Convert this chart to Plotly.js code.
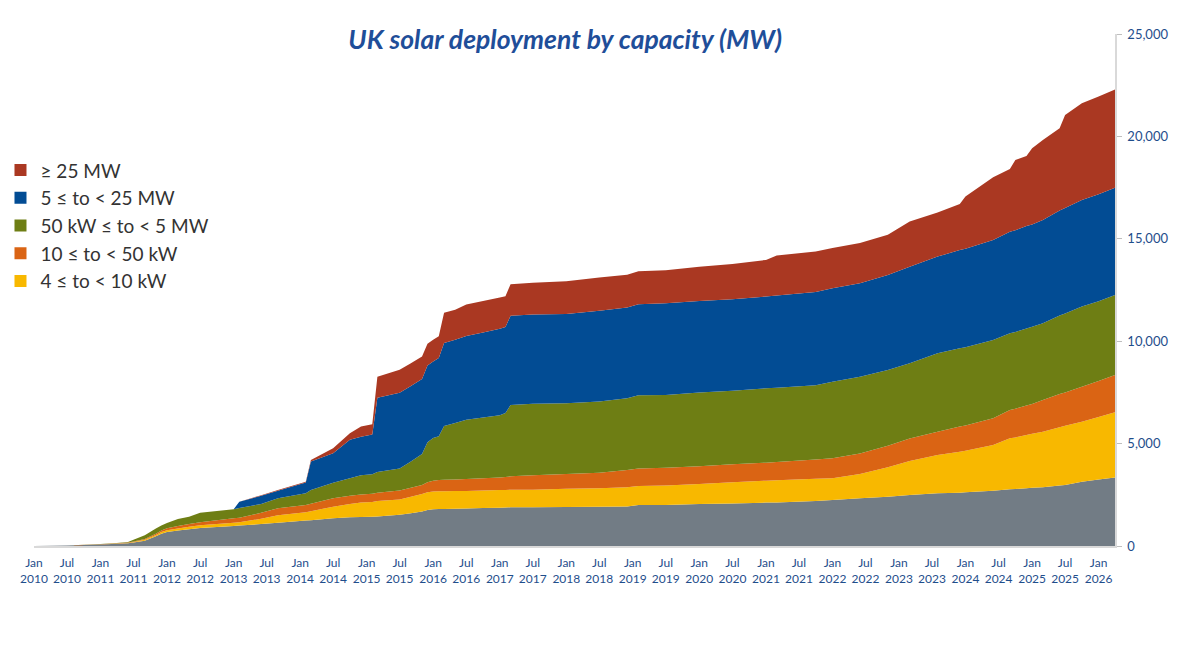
<!DOCTYPE html>
<html>
<head>
<meta charset="utf-8">
<script src="https://cdn.plot.ly/plotly-3.0.1.min.js"></script>
<style>
  html, body { margin: 0; padding: 0; background: #ffffff; }
  #plot { width: 1200px; height: 645px; }
</style>
</head>
<body>
<div id="plot"></div>
<script>
// UK solar deployment by capacity band, cumulative MW (stacked)

const months = [
    '2010-01-01', '2010-07-01', '2011-01-01', '2011-04-01', '2011-06-01', '2011-07-01', '2011-09-01', '2011-11-01',
    '2011-12-01', '2012-01-01', '2012-03-01', '2012-05-01', '2012-07-01', '2013-01-01', '2013-02-01', '2013-06-01',
    '2013-09-01', '2014-02-01', '2014-03-01', '2014-07-01', '2014-10-01', '2014-12-01', '2015-02-01', '2015-03-01',
    '2015-07-01', '2015-09-01', '2015-11-01', '2015-12-01', '2016-01-01', '2016-02-01', '2016-03-01', '2016-05-01',
    '2016-07-01', '2016-10-01', '2017-01-01', '2017-02-01', '2017-03-01', '2017-07-01', '2018-01-01', '2018-07-01',
    '2018-12-01', '2019-02-01', '2019-07-01', '2020-01-01', '2020-07-01', '2021-01-01', '2021-03-01', '2021-10-01',
    '2022-01-01', '2022-06-01', '2022-11-01', '2023-03-01', '2023-08-01', '2023-12-01', '2024-01-01', '2024-06-01',
    '2024-09-01', '2024-10-01', '2024-12-01', '2025-01-01', '2025-03-01', '2025-06-01', '2025-07-01', '2025-10-01',
    '2026-01-01', '2026-04-01'
];

// MW in each band (not cumulative)
const under4kW = [
    5, 20, 70, 105, 130, 165, 260, 480, 600, 680, 760, 820, 880, 980, 1000, 1070,
    1130, 1240, 1260, 1350, 1400, 1420, 1430, 1440, 1520, 1600, 1680, 1760, 1800, 1810, 1810, 1820,
    1830, 1850, 1870, 1880, 1890, 1890, 1900, 1920, 1930, 2000, 2000, 2050, 2080, 2120, 2130, 2200,
    2250, 2330, 2410, 2490, 2570, 2600, 2620, 2700, 2770, 2780, 2820, 2840, 2870, 2950, 2980, 3140,
    3250, 3350
];
const kw4to10 = [
    0, 2, 8, 13, 18, 25, 40, 60, 80, 90, 100, 120, 130, 160, 160, 260,
    370, 410, 440, 570, 650, 700, 720, 760, 750, 800, 860, 860, 860, 860, 860, 860,
    860, 860, 860, 860, 860, 860, 900, 900, 940, 930, 960, 980, 1030, 1070, 1080, 1080,
    1060, 1190, 1440, 1660, 1870, 2000, 2030, 2230, 2490, 2520, 2600, 2640, 2710, 2850, 2890, 2930,
    3050, 3180
];
const kw10to50 = [
    0, 2, 7, 12, 17, 25, 45, 60, 80, 100, 120, 130, 150, 210, 220, 290,
    340, 350, 360, 410, 400, 400, 400, 400, 440, 450, 440, 490, 530, 550, 560, 570,
    580, 600, 620, 630, 650, 700, 720, 760, 840, 860, 860, 870, 880, 880, 890, 940,
    970, 1000, 1050, 1100, 1140, 1230, 1230, 1310, 1380, 1400, 1440, 1450, 1550, 1620, 1630, 1710,
    1760, 1820
];
const kw50toMw5 = [
    0, 1, 10, 20, 35, 85, 175, 250, 240, 250, 340, 360, 460, 450, 470, 430,
    490, 570, 670, 760, 860, 930, 950, 1010, 1080, 1270, 1510, 1950, 2080, 2140, 2630, 2750,
    2890, 2960, 3030, 3120, 3480, 3490, 3450, 3470, 3500, 3570, 3550, 3590, 3590, 3630, 3630, 3630,
    3740, 3750, 3690, 3670, 3830, 3820, 3820, 3820, 3750, 3750, 3760, 3770, 3750, 3830, 3850, 3910,
    3890, 3910
];
const mw5to25 = [
    0, 0, 0, 0, 0, 0, 0, 0, 0, 0, 0, 0, 0, 0, 310, 400,
    370, 530, 1390, 1440, 1880, 1890, 1950, 3630, 3690, 3690, 3660, 3750, 3740, 3820, 4050, 4070,
    4100, 4150, 4230, 4200, 4360, 4360, 4360, 4440, 4440, 4440, 4480, 4470, 4470, 4480, 4500, 4550,
    4560, 4560, 4640, 4720, 4720, 4800, 4820, 4880, 4960, 4970, 5000, 5000, 5040, 5130, 5150, 5210,
    5230, 5230
];
const mw25plus = [
    0, 0, 0, 0, 0, 0, 0, 0, 0, 0, 0, 0, 0, 0, 0, 30,
    30, 40, 80, 240, 320, 490, 500, 1030, 1130, 1110, 1100, 1060, 1060, 1060, 1480, 1460,
    1530, 1540, 1520, 1500, 1540, 1550, 1600, 1620, 1600, 1620, 1620, 1680, 1720, 1790, 1950, 1980,
    1970, 1970, 1970, 2200, 2150, 2250, 2540, 3060, 3060, 3430, 3420, 3720, 3910, 4020, 4550, 4720,
    4770, 4800
];

const bandNames = ['< 4 kW', '4 ≤ to < 10 kW', '10 ≤ to < 50 kW', '50 kW ≤ to < 5 MW', '5 ≤ to < 25 MW', '≥ 25 MW'];
const bandValues = [under4kW, kw4to10, kw10to50, kw50toMw5, mw5to25, mw25plus];
const bandColors = ['#727c85', '#f8b800', '#da6414', '#6e7e14', '#024c94', '#aa3822'];

const traces = bandValues.map((vals, i) => ({
    x: months,
    y: vals,
    name: bandNames[i],
    stackgroup: 'capacity',
    mode: 'none',
    fillcolor: bandColors[i],
    line: { width: 0, shape: 'linear' },
    showlegend: false,
    hoverinfo: 'x+y+name'
}));

// legend-only entries so the keys are small squares, biggest band first (grey band has no key)
for (let i = bandNames.length - 1; i >= 1; i--) {
    traces.push({
        x: [null],
        y: [null],
        name: bandNames[i],
        mode: 'markers',
        marker: { symbol: 'square', size: 12, color: bandColors[i] },
        showlegend: true,
        hoverinfo: 'skip'
    });
}

const textBlue = '#1f4e8c';

const layout = {
    width: 1200,
    height: 645,
    margin: { l: 34, r: 85, t: 34, b: 99, autoexpand: false },
    paper_bgcolor: '#ffffff',
    plot_bgcolor: '#ffffff',
    font: { family: 'Lato, "Open Sans", sans-serif', color: textBlue },
    title: {
        text: '<b><i>UK solar deployment by capacity (MW)</i></b>',
        font: { size: 26.5, color: '#1f4e99' },
        xref: 'container',
        x: 0.471,
        xanchor: 'center',
        yref: 'container',
        y: 0.938,
        yanchor: 'middle'
    },
    xaxis: {
        type: 'date',
        range: ['2010-01-01', '2026-04-01'],
        tick0: '2010-01-01',
        dtick: 'M6',
        tickformat: '%b<br>%Y',
        tickangle: 0,
        ticks: 'outside',
        ticklen: 5,
        tickcolor: 'rgba(0,0,0,0)',
        tickfont: { size: 12, color: textBlue },
        showgrid: false,
        zeroline: false,
        showline: true,
        linecolor: '#d9d9d9',
        linewidth: 1.5,
        automargin: false,
        fixedrange: true
    },
    yaxis: {
        side: 'right',
        range: [0, 25000],
        dtick: 5000,
        tickformat: ',d',
        ticks: 'outside',
        ticklen: 5,
        tickcolor: '#bfbfbf',
        tickfont: { size: 13, color: textBlue },
        ticklabelstandoff: 3,
        showgrid: false,
        zeroline: false,
        showline: true,
        linecolor: '#d9d9d9',
        linewidth: 1.5,
        automargin: false,
        fixedrange: true
    },
    legend: {
        x: -0.031,
        xanchor: 'left',
        y: 0.771,
        yanchor: 'top',
        traceorder: 'normal',
        font: { size: 19, color: '#333333' },
        bgcolor: 'rgba(0,0,0,0)',
        itemclick: false
    },
    showlegend: true,
    hovermode: 'x unified'
};

Plotly.newPlot('plot', traces, layout, { displayModeBar: false, responsive: false });
</script>
</body>
</html>
